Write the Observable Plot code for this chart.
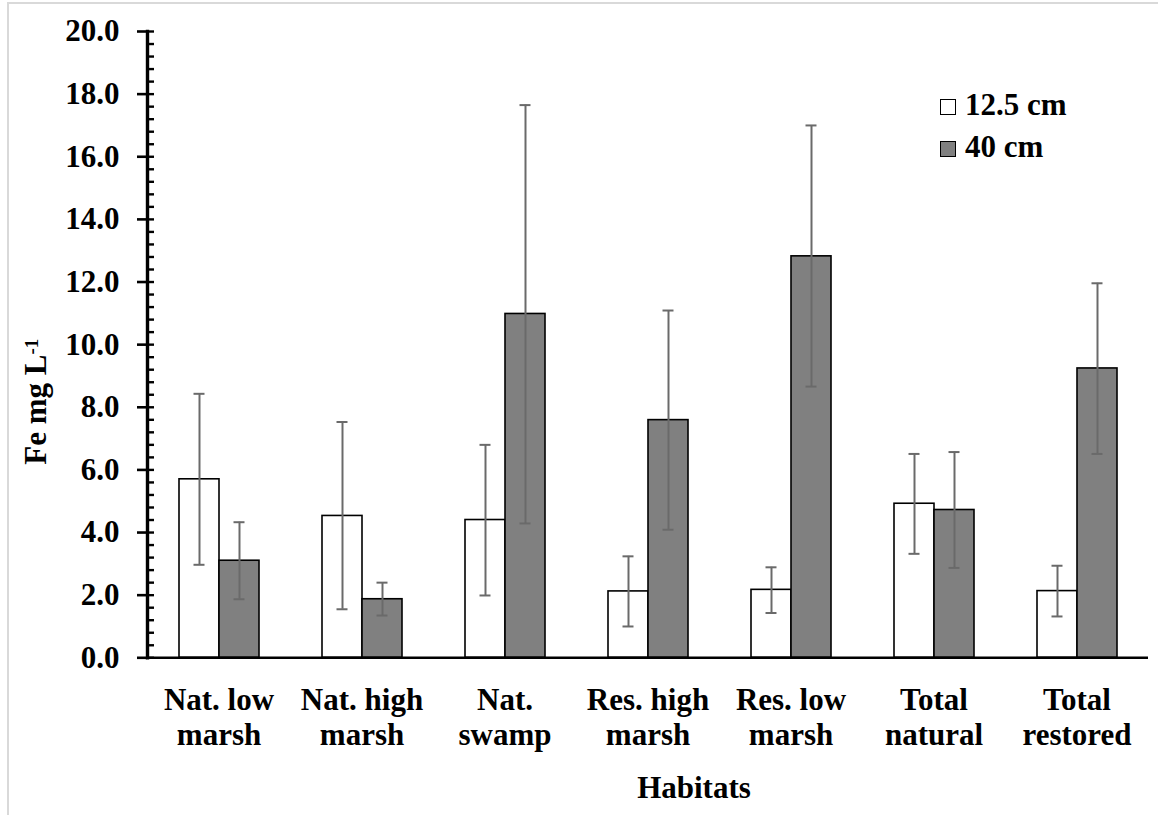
<!DOCTYPE html>
<html>
<head>
<meta charset="utf-8">
<script src="https://cdn.jsdelivr.net/npm/d3@7"></script>
<script src="https://cdn.jsdelivr.net/npm/@observablehq/plot@0.6"></script>
<style>
  html, body { margin: 0; padding: 0; background: #fff; }
  #wrap { position: relative; width: 1158px; height: 815px; overflow: hidden; font-family: "Liberation Serif", "Times New Roman", serif; font-weight: bold; }
  #border { position: absolute; left: 6.5px; top: 1.7px; width: 1200px; height: 900px; border-left: 2px solid #d9d9d9; border-top: 2px solid #d9d9d9; }
  #chart { position: absolute; left: 0; top: 0; }
  .legend { position: absolute; left: 940px; font-size: 31px; line-height: 1; color: #000; }
  .legend .row { position: absolute; left: 0; white-space: nowrap; }
  .legend .sw { position: absolute; left: 0; width: 14px; height: 14px; border: 1.4px solid #000; }
  .legend .lab { position: absolute; left: 25px; }
</style>
</head>
<body>
<div id="wrap">
  <div id="border"></div>
  <div id="chart"></div>
</div>
<script>
// ---- data ----
const categories = ["Nat. low marsh", "Nat. high marsh", "Nat. swamp", "Res. high marsh", "Res. low marsh", "Total natural", "Total restored"];
const tickLabels = ["Nat. low\nmarsh", "Nat. high\nmarsh", "Nat.\nswamp", "Res. high\nmarsh", "Res. low\nmarsh", "Total\nnatural", "Total\nrestored"];
const depths = ["12.5 cm", "40 cm"];
const mean125 = [5.70, 4.53, 4.40, 2.12, 2.17, 4.92, 2.13];
const low125  = [2.97, 1.55, 1.99, 1.00, 1.43, 3.32, 1.32];
const high125 = [8.43, 7.53, 6.80, 3.24, 2.89, 6.51, 2.94];
const mean40  = [3.10, 1.87, 10.98, 7.59, 12.82, 4.72, 9.24];
const low40   = [1.87, 1.35, 4.29, 4.09, 8.66, 2.87, 6.51];
const high40  = [4.33, 2.40, 17.65, 11.09, 17.00, 6.57, 11.96];
const yMajorTicks = [0, 2, 4, 6, 8, 10, 12, 14, 16, 18, 20];
const yMinorTicks = d3.range(0, 51).map(i => i * 0.4);
const xTitle = "Habitats";
const yTitle = "Fe mg L-1";
const colors = ["#ffffff", "#808080"];

const data = categories.flatMap((c, i) => [
  {habitat: c, depth: depths[0], value: mean125[i], lo: low125[i], hi: high125[i]},
  {habitat: c, depth: depths[1], value: mean40[i], lo: low40[i], hi: high40[i]}
]);
const labelOf = new Map(categories.map((c, i) => [c, tickLabels[i]]));

const W = 1158, H = 815;
const chart = Plot.plot({
  width: W, height: H,
  marginLeft: 145, marginRight: 8, marginTop: 31, marginBottom: 157.7,
  style: {fontFamily: "'Liberation Serif', 'Times New Roman', serif", fontWeight: "bold", fontSize: "31px", color: "#000", background: "transparent", overflow: "visible"},
  fx: {domain: categories, padding: 0, label: null, axis: null},
  x: {domain: depths, paddingInner: 0, paddingOuter: 0.75, axis: null},
  y: {domain: [0, 20], axis: null},
  color: {domain: depths, range: colors},
  marks: [
    Plot.barY(data, {fx: "habitat", x: "depth", y: "value", fill: "depth", stroke: "#000", strokeWidth: 1.6}),
    Plot.ruleX(data, {fx: "habitat", x: "depth", y1: "lo", y2: "hi", stroke: "#6a6a6a", strokeWidth: 2}),
    Plot.tickY(data, {fx: "habitat", x: "depth", y: "lo", stroke: "#6a6a6a", strokeWidth: 2, insetLeft: 14.5, insetRight: 14.5}),
    Plot.tickY(data, {fx: "habitat", x: "depth", y: "hi", stroke: "#6a6a6a", strokeWidth: 2, insetLeft: 14.5, insetRight: 14.5}),
    Plot.ruleY([0], {stroke: "#000", strokeWidth: 2.5}),
    Plot.frame({anchor: "left", facetAnchor: "left", stroke: "#000", strokeWidth: 3.4}),
    Plot.axisY({ticks: yMinorTicks, tickSize: -7, tickFormat: () => "", strokeWidth: 2.4, facetAnchor: "left", label: null}),
    Plot.axisY({ticks: yMajorTicks, tickSize: 10, tickPadding: 18, strokeWidth: 2.6, tickFormat: d => d.toFixed(1), fontSize: 31, facetAnchor: "left", label: null}),
    Plot.axisFx({anchor: "bottom", tickSize: 0, tickPadding: 27, tickFormat: d => labelOf.get(d), fontSize: 31, lineHeight: 1.13, label: null}),
    Plot.text([xTitle], {facet: "super", frameAnchor: "bottom", dx: 46, dy: 140, fontSize: 31, fontWeight: "bold"}),
    Plot.text([yTitle], {facet: "super", frameAnchor: "left", textAnchor: "middle", rotate: -90, dx: -111, dy: 57, fontSize: 31, fontWeight: "bold"})
  ]
});
document.getElementById("chart").appendChild(chart);

// superscript on the y title
for (const t of chart.querySelectorAll("text")) {
  if (t.textContent === yTitle) {
    t.textContent = "Fe mg L";
    const ts = document.createElementNS("http://www.w3.org/2000/svg", "tspan");
    ts.setAttribute("dy", "-8");
    ts.setAttribute("font-size", "19");
    ts.textContent = "-1";
    t.appendChild(ts);
  }
}

// legend
const legend = document.createElement("div");
legend.className = "legend";
legend.style.top = "0px";
const rowTops = [98.5, 140.5];
depths.forEach((d, i) => {
  const row = document.createElement("div");
  row.className = "row";
  row.style.top = rowTops[i] + "px";
  const sw = document.createElement("div");
  sw.className = "sw";
  sw.style.background = colors[i];
  const lab = document.createElement("div");
  lab.className = "lab";
  lab.style.top = "-10px";
  lab.textContent = d;
  row.appendChild(sw);
  row.appendChild(lab);
  legend.appendChild(row);
});
document.getElementById("wrap").appendChild(legend);
</script>
</body>
</html>
